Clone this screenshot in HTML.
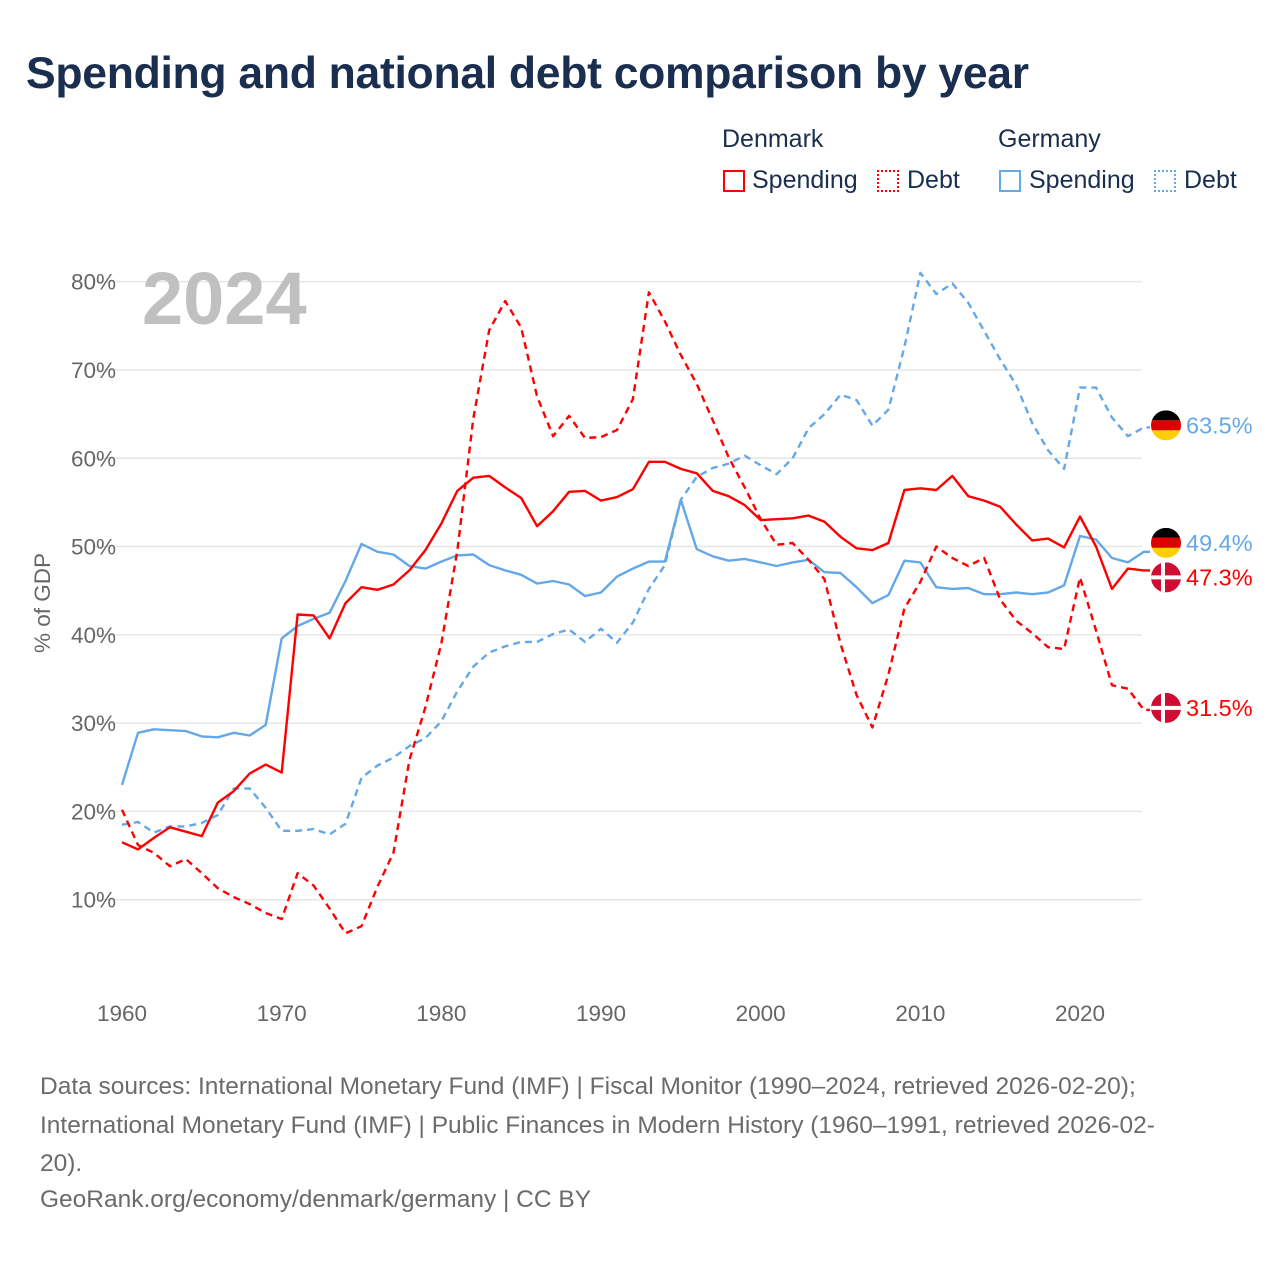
<!DOCTYPE html>
<html><head><meta charset="utf-8">
<style>
body{margin:0;background:#fff;font-family:"Liberation Sans",sans-serif;}
#wrap{position:relative;width:1280px;height:1280px;overflow:hidden;}
h1{position:absolute;left:26px;top:49px;margin:0;font-size:44.5px;font-weight:bold;color:#1a2e4f;letter-spacing:-0.3px;white-space:nowrap;}
.lg{position:absolute;font-size:25px;color:#1a2e4f;}
.sw{position:absolute;width:22px;height:22px;box-sizing:border-box;}
.foot{position:absolute;left:40px;font-size:24.5px;color:#6b6b6b;white-space:nowrap;}
</style></head><body>
<div id="wrap">
<h1>Spending and national debt comparison by year</h1>
<div class="lg" style="left:722px;top:125px">Denmark</div>
<div class="lg" style="left:998px;top:125px">Germany</div>
<div class="sw" style="left:723px;top:170px;border:2px solid #f00"></div>
<div class="lg" style="left:752px;top:166px">Spending</div>
<div class="sw" style="left:877px;top:170px;border:2px dotted #f00"></div>
<div class="lg" style="left:907px;top:166px">Debt</div>
<div class="sw" style="left:999px;top:170px;border:2px solid #64a8e8"></div>
<div class="lg" style="left:1029px;top:166px">Spending</div>
<div class="sw" style="left:1154px;top:170px;border:2px dotted #64a8e8"></div>
<div class="lg" style="left:1184px;top:166px">Debt</div>
<svg id="chart" width="1280" height="1280" style="position:absolute;left:0;top:0"></svg>
<div class="foot" style="top:1068px;line-height:38.5px">Data sources: International Monetary Fund (IMF) | Fiscal Monitor (1990–2024, retrieved 2026-02-20);<br>International Monetary Fund (IMF) | Public Finances in Modern History (1960–1991, retrieved 2026-02-<br>20).</div>
<div class="foot" style="top:1186px">GeoRank.org/economy/denmark/germany | CC BY</div>
</div>
<script>
const years=[];for(let y=1960;y<=2024;y++)years.push(y);
const yTicks=[10,20,30,40,50,60,70,80];
const xTicks=[1960,1970,1980,1990,2000,2010,2020];
const dkSpending=[16.5,15.7,17.0,18.2,17.7,17.2,21.0,22.3,24.3,25.3,24.4,42.3,42.2,39.6,43.6,45.4,45.1,45.7,47.3,49.6,52.6,56.3,57.8,58.0,56.7,55.5,52.3,54.0,56.2,56.3,55.2,55.6,56.5,59.6,59.6,58.8,58.3,56.3,55.7,54.7,53.0,53.1,53.2,53.5,52.8,51.1,49.8,49.6,50.4,56.4,56.6,56.4,58.0,55.7,55.2,54.5,52.5,50.7,50.9,49.9,53.4,50.0,45.2,47.5,47.3];
const dkDebt=[20.2,16.2,15.3,13.8,14.6,13.0,11.3,10.3,9.5,8.5,7.8,13.0,11.6,9.0,6.2,7.0,11.5,15.3,25.8,31.8,39.0,49.5,64.5,74.5,77.8,74.8,67.0,62.5,64.8,62.3,62.4,63.2,66.7,78.8,75.5,71.7,68.4,64.3,60.1,56.7,53.1,50.2,50.4,48.5,46.3,39.0,33.2,29.5,35.5,43.0,46.0,50.0,48.7,47.8,48.7,44.0,41.6,40.2,38.6,38.4,46.5,40.5,34.3,33.9,31.5];
const deSpending=[23.0,28.9,29.3,29.2,29.1,28.5,28.4,28.9,28.6,29.8,39.6,41.0,41.8,42.5,46.1,50.3,49.4,49.1,47.8,47.5,48.3,49.0,49.1,47.9,47.3,46.8,45.8,46.1,45.7,44.4,44.8,46.6,47.5,48.3,48.3,55.3,49.7,48.9,48.4,48.6,48.2,47.8,48.2,48.5,47.1,47.0,45.4,43.6,44.5,48.4,48.2,45.4,45.2,45.3,44.6,44.6,44.8,44.6,44.8,45.6,51.2,50.8,48.7,48.2,49.4];
const deDebt=[18.5,18.8,17.6,18.3,18.3,18.7,19.6,22.6,22.6,20.4,17.8,17.8,18.0,17.4,18.6,23.8,25.2,26.1,27.4,28.3,30.2,33.6,36.4,38.0,38.7,39.2,39.2,40.1,40.6,39.2,40.7,39.1,41.4,45.2,47.9,55.3,57.9,58.9,59.4,60.3,59.2,58.2,60.0,63.4,65.0,67.2,66.6,63.7,65.5,72.6,81.0,78.6,79.8,77.6,74.4,71.2,68.3,64.0,60.9,58.8,68.0,68.0,64.6,62.5,63.5];
const NS="http://www.w3.org/2000/svg";
const svg=document.getElementById('chart');
const xS=y=>122+(y-1960)*15.967;
const yS=v=>988-v*8.829;
function mk(t,a){const e=document.createElementNS(NS,t);for(const k in a)e.setAttribute(k,a[k]);svg.appendChild(e);return e;}
yTicks.forEach(t=>{
  const l=mk('line',{x1:95,x2:1142,y1:yS(t),y2:yS(t),stroke:'#e6e6e6','stroke-width':1.5});
  
  
  const tx=mk('text',{x:116,y:yS(t)+8,'text-anchor':'end','font-size':22.5,fill:'#666','font-family':'Liberation Sans'});
  tx.textContent=t+'%';
  
  
});
xTicks.forEach(t=>{
  const tx=mk('text',{x:xS(t),y:1021,'text-anchor':'middle','font-size':22.5,fill:'#666','font-family':'Liberation Sans'});
  tx.textContent=t;
  
  
});
const yt=mk('text',{x:0,y:0,transform:'translate(50,603) rotate(-90)','text-anchor':'middle','font-size':22.5,fill:'#666','font-family':'Liberation Sans'});
yt.textContent='% of GDP';


const yr=mk('text',{x:142,y:324,'font-size':74,'font-weight':'bold',fill:'#c0c0c0','font-family':'Liberation Sans'});
yr.textContent='2024';


function series(vals,color,dash,name){
  let d=vals.map((v,i)=>(i?'L':'M')+xS(years[i]).toFixed(1)+','+yS(v).toFixed(1)).join(' ');
  d+=' L1150,'+yS(vals[vals.length-1]).toFixed(1);
  const p=mk('path',{d:d,fill:'none',stroke:color,'stroke-width':2.4,'stroke-dasharray':dash||'none','stroke-linejoin':'round'});
  
  
}
series(deDebt,'#64a8e8','7,5','line-germany-debt');
series(deSpending,'#64a8e8','','line-germany-spending');
series(dkDebt,'#f00','7,5','line-denmark-debt');
series(dkSpending,'#f00','','line-denmark-spending');
function flag(v,country,color,name,dy){
  const cy=yS(v)+(dy||0),cx=1166,r=15;
  const g=document.createElementNS(NS,'g');svg.appendChild(g);
  
  
  const cp='cp'+name;
  const defs=document.createElementNS(NS,'clipPath');defs.setAttribute('id',cp);
  const c=document.createElementNS(NS,'circle');c.setAttribute('cx',cx);c.setAttribute('cy',cy);c.setAttribute('r',r);defs.appendChild(c);g.appendChild(defs);
  const add=(x,y,w,h,f)=>{const e=document.createElementNS(NS,'rect');e.setAttribute('x',x);e.setAttribute('y',y);e.setAttribute('width',w);e.setAttribute('height',h);e.setAttribute('fill',f);e.setAttribute('clip-path','url(#'+cp+')');g.appendChild(e);};
  if(country==='de'){add(cx-r,cy-r,30,10,'#000');add(cx-r,cy-5,30,10,'#dd0000');add(cx-r,cy+5,30,10,'#ffce00');}
  else{add(cx-r,cy-r,30,30,'#d00c33');add(cx-r,cy-2,30,4,'#fff');add(cx-5,cy-r,4,30,'#fff');}
  const t=mk('text',{x:1186,y:cy+8,'font-size':23.5,fill:color,'font-family':'Liberation Sans'});
  t.textContent=v.toFixed(1)+'%';
  
  
}
flag(deDebt[64],'de','#64a8e8','germany-debt',-2);
flag(deSpending[64],'de','#64a8e8','germany-spending',-9);
flag(dkSpending[64],'dk','#f00','denmark-spending',7);
flag(dkDebt[64],'dk','#f00','denmark-debt',-2);
</script>
</body></html>
